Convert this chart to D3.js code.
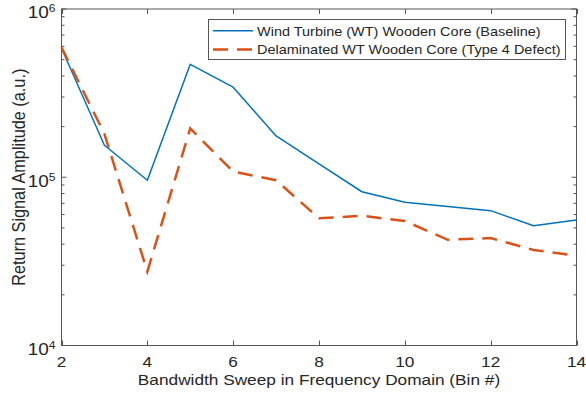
<!DOCTYPE html>
<html>
<head>
<meta charset="utf-8">
<script src="https://cdn.jsdelivr.net/npm/d3@7"></script>
<style>
  html, body { margin: 0; padding: 0; background: #fff; }
  svg { display: block; font-family: "Liberation Sans", Arial, Helvetica, sans-serif; }
</style>
</head>
<body>
<svg id="chart" width="586" height="401"></svg>
<script>
const bins = [2, 3, 4, 5, 6, 7, 8, 9, 10, 11, 12, 13, 14];
const baseline = [584000, 155000, 96000, 469000, 343000, 176000, 120000, 82000, 71000, 67000, 63300, 51500, 55700];
const delaminated = [592000, 181000, 27500, 195000, 108000, 96000, 57000, 59000, 55000, 42500, 43500, 37000, 34200];
const xTicks = [2, 4, 6, 8, 10, 12, 14];
const yMajorExp = [4, 5, 6];
const seriesNames = ["Wind Turbine (WT) Wooden Core (Baseline)", "Delaminated WT Wooden Core (Type 4 Defect)"];
const xLabel = "Bandwidth Sweep in Frequency Domain (Bin #)";
const yLabel = "Return Signal Amplitude (a.u.)";

const svg = d3.select("#chart");
const L = 61.5, R = 576.5, T = 9, B = 345.5;
const SX = 1.15; // horizontal text stretch seen in the reference
const axisColor = "#555555";
const textColor = "#262626";
const blue = "#0072BD", orange = "#D95319";

const x = d3.scaleLinear().domain([2, 14]).range([L, R]);
const y = d3.scaleLog().domain([1e4, 1e6]).range([B, T]);

const minor = [];
[4, 5].forEach(e => { for (let m = 2; m <= 9; m++) minor.push(m * Math.pow(10, e)); });

const g = svg.append("g");

function htext(px, py, size, anchor, str) {
  return g.append("text").attr("transform", `translate(${px},${py}) scale(${SX},1)`)
    .attr("text-anchor", anchor).attr("font-size", size).attr("fill", textColor).text(str);
}

// box
g.append("rect").attr("x", L).attr("y", T).attr("width", R - L).attr("height", B - T)
  .attr("fill", "none").attr("stroke", axisColor).attr("stroke-width", 1);

// x ticks (bottom & top, inward)
xTicks.forEach(t => {
  const px = Math.round(x(t)) + 0.5;
  g.append("line").attr("x1", px).attr("x2", px).attr("y1", B).attr("y2", B - 5).attr("stroke", axisColor);
  g.append("line").attr("x1", px).attr("x2", px).attr("y1", T).attr("y2", T + 5).attr("stroke", axisColor);
  htext(x(t), 367, 15, "middle", t);
});

// y major ticks
yMajorExp.forEach(e => {
  const py = y(Math.pow(10, e));
  g.append("line").attr("x1", L).attr("x2", L + 5).attr("y1", py).attr("y2", py).attr("stroke", axisColor);
  g.append("line").attr("x1", R).attr("x2", R - 5).attr("y1", py).attr("y2", py).attr("stroke", axisColor);
  const txt = htext(55.5, py + 9.3, 16.5, "end", null);
  txt.append("tspan").text("10");
  txt.append("tspan").attr("dy", -6).attr("font-size", 10.5).text(e);
});

// y minor ticks
minor.forEach(v => {
  const py = y(v);
  g.append("line").attr("x1", L).attr("x2", L + 3).attr("y1", py).attr("y2", py).attr("stroke", axisColor);
  g.append("line").attr("x1", R).attr("x2", R - 3).attr("y1", py).attr("y2", py).attr("stroke", axisColor);
});

// lines
const line = d3.line().x((d, i) => x(bins[i])).y(d => y(d));
g.append("path").datum(baseline).attr("d", line).attr("fill", "none")
  .attr("stroke", blue).attr("stroke-width", 1.5).attr("stroke-linejoin", "round");
g.append("path").datum(delaminated).attr("d", line).attr("fill", "none")
  .attr("stroke", orange).attr("stroke-width", 2.5).attr("stroke-dasharray", "15,9");

// axis labels
htext((L + R) / 2, 384.5, 15, "middle", xLabel);
g.append("text").attr("transform", `translate(24.5,${(T + B) / 2}) scale(${SX},1) rotate(-90)`)
  .attr("text-anchor", "middle").attr("font-size", 16.3).attr("fill", textColor).text(yLabel);

// legend
g.append("rect").attr("x", 208.5).attr("y", 19.5).attr("width", 357).attr("height", 40)
  .attr("fill", "#fff").attr("stroke", axisColor).attr("stroke-width", 1);
const items = [{name: seriesNames[0], color: blue, dash: null, w: 1.5},
               {name: seriesNames[1], color: orange, dash: "15,9", w: 2.5}];
items.forEach((it, i) => {
  const ly = 30.7 + i * 18.7;
  g.append("line").attr("x1", 213).attr("x2", 253).attr("y1", ly).attr("y2", ly)
    .attr("stroke", it.color).attr("stroke-width", it.w).attr("stroke-dasharray", it.dash);
  htext(257, ly + 4.8, 12.6, "start", it.name);
});
</script>
</body>
</html>
